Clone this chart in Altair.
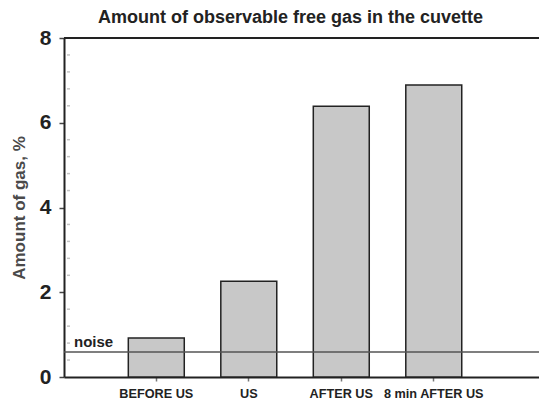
import altair as alt
import pandas as pd

categories = ["BEFORE US", "US", "AFTER US", "8 min AFTER US"]
values = [0.92, 2.26, 6.39, 6.89]
noise_level = 0.59
noise_label = "noise"
y_ticks = [0, 2, 4, 6, 8]
minor_ticks = [0.4, 0.8, 1.2, 1.6, 2.4, 2.8, 3.2, 3.6, 4.4, 4.8, 5.2, 5.6,
               6.4, 6.8, 7.2, 7.6]

df = pd.DataFrame({"cat": categories, "val": values})
noise_df = pd.DataFrame({"y": [noise_level], "label": [noise_label]})
top_df = pd.DataFrame({"y": [8]})
minor_df = pd.DataFrame({"y": minor_ticks})

FONT = "Liberation Sans"
PLOT_W = 483  # full drawn width of the x range (clipped at the page edge)

xscale = alt.Scale(domain=categories, range=[0, PLOT_W],
                   paddingInner=0.395, paddingOuter=0.8085, align=0.43)
yscale = alt.Scale(domain=[0, 8], nice=False)

bars = alt.Chart(df).mark_bar(
    fill="#c8c8c8", stroke="#222222", strokeWidth=1.5
).encode(
    x=alt.X("cat:N", scale=xscale, sort=categories, title=None,
            axis=alt.Axis(labelAngle=0, labelFont=FONT, labelFontWeight="bold",
                          labelFontSize=12.7, labelColor="#222222", labelPadding=6,
                          tickSize=4, tickColor="#777777", tickWidth=1.5,
                          domainColor="#222222", domainWidth=2)),
    y=alt.Y("val:Q", scale=yscale, title="Amount of gas, %",
            axis=alt.Axis(values=y_ticks, labelFont=FONT, labelFontWeight="bold",
                          labelFontSize=21, labelColor="#222222", labelPadding=8,
                          tickSize=5, tickColor="#444444", tickWidth=1.5,
                          domainColor="#222222", domainWidth=2, grid=False,
                          titleFont=FONT, titleFontWeight="bold", titleFontSize=17,
                          titleColor="#4a4a4a", titlePadding=11)),
)

minor = alt.Chart(minor_df).mark_rule(color="#c4c4c4", strokeWidth=1.5).encode(
    x=alt.value(3), x2=alt.value(6),
    y=alt.Y("y:Q", scale=yscale),
)

noise_rule = alt.Chart(noise_df).mark_rule(color="#555555", strokeWidth=1.5).encode(
    x=alt.value(0), x2=alt.value(PLOT_W),
    y=alt.Y("y:Q", scale=yscale),
)

noise_text = alt.Chart(noise_df).mark_text(
    align="left", baseline="bottom", dy=-2, font=FONT, fontWeight="bold",
    fontSize=15, color="#222222"
).encode(
    x=alt.value(10),
    y=alt.Y("y:Q", scale=yscale),
    text="label:N",
)

top_rule = alt.Chart(top_df).mark_rule(color="#222222", strokeWidth=2).encode(
    x=alt.value(0), x2=alt.value(PLOT_W),
    y=alt.Y("y:Q", scale=yscale),
)

chart = alt.layer(minor, bars, noise_rule, noise_text, top_rule).properties(
    width=475, height=339,
    autosize=alt.AutoSizeParams(type="none"),
    title=alt.TitleParams("Amount of observable free gas in the cuvette",
                          anchor="middle", frame="group", dx=-11,
                          font=FONT, fontSize=18, fontWeight="bold",
                          color="#222222", offset=0),
    padding={"left": 56, "right": 0, "top": 30, "bottom": 23},
).configure_view(stroke=None)

chart.save("out.html", embed_options={"renderer": "svg", "actions": False})
